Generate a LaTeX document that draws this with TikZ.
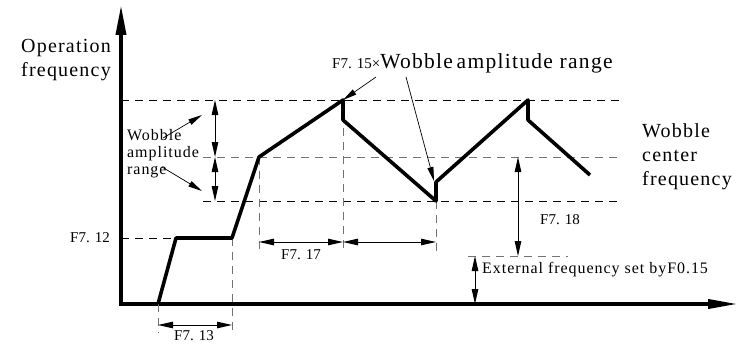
\documentclass[tikz,border=0pt]{standalone}
\usepackage{fontspec}
\setmainfont{Liberation Serif}
\newfontfamily\widefont[LetterSpace=6]{Liberation Serif}
\usetikzlibrary{arrows.meta,positioning}
\definecolor{guidegray}{RGB}{115,115,115}

\begin{document}
\begin{tikzpicture}[x=1pt, y=-1pt,
  every node/.style={inner sep=0pt},
  axisline/.style={line width=3.6pt, line join=miter, {Triangle[length=30pt,width=10pt]}-{Triangle[length=30pt,width=9pt]}},
  curveline/.style={line width=3.6pt, line join=round},
  guide/.style={line width=0.9pt, dash pattern=on 8pt off 6pt},
  grayguide/.style={guide, guidegray},
  dimarrow/.style={line width=1pt, {Triangle[length=15pt,width=6.5pt]}-{Triangle[length=15pt,width=6.5pt]}},
  leader/.style={line width=0.7pt, -{Triangle[length=14pt,width=6pt]}},
  bigtext/.style={font=\widefont\fontsize{20}{24}\selectfont, align=left},
  midtext/.style={font=\widefont\fontsize{16}{17}\selectfont, align=left},
  parmtext/.style={font=\fontsize{15}{18}\selectfont}]
  \useasboundingbox (0,0) rectangle (749,345);

  % axes
  \coordinate (ytop) at (121,5);
  \coordinate (orig) at (121,304);
  \coordinate (xend) at (738,304);
  \draw[axisline] (ytop) -- (orig) -- (xend);

  % corner points of the frequency curve
  \coordinate (start) at (158,304);
  \coordinate (rise) at (176,238);
  \coordinate (hold) at (232,238);
  \coordinate (centre) at (259,157);
  \coordinate (peakA) at (343,100);
  \coordinate (dropA) at (343,120);
  \coordinate (lowA) at (436,201);
  \coordinate (jumpA) at (436,182);
  \coordinate (peakB) at (528,100);
  \coordinate (dropB) at (528,120);
  \coordinate (tail) at (590,175);

  % horizontal guides
  \draw[guide] (121,100) -- (622,100);
  \draw[grayguide] (203,157) -- (622,157);
  \draw[guide] (203,201) -- (622,201);
  \draw[guide] (121,238) -- (rise);
  \draw[grayguide] (468,256) -- (568,256);

  % vertical guides
  \draw[grayguide] (start) -- (158,333);
  \draw[grayguide] (hold) -- (232,333);
  \draw[grayguide] (centre) -- (259,253);
  \draw[grayguide] (peakA) -- (343,253);
  \draw[grayguide] (lowA) -- (436,253);

  \draw[curveline] (start) -- (rise) -- (hold) -- (centre) -- (peakA) -- (dropA)
    -- (lowA) -- (jumpA) -- (peakB) -- (dropB) -- (tail);

  % dimensions
  \draw[dimarrow] (215,100) -- (215,157);
  \draw[dimarrow] (215,157) -- (215,201);
  \draw[dimarrow] (158,325) -- (232,325);
  \draw[dimarrow] (259,242) -- (343,242);
  \draw[dimarrow] (343,242) -- (436,242);
  \draw[dimarrow] (518,157) -- (518,256);
  \draw[dimarrow] (475,256) -- (475,304);

  % labels
  \node[bigtext, anchor=west] (ylabel) at (21,60) {Operation\\frequency};
  \node[parmtext, anchor=east] (f712) at (110,238) {F7. 12};
  \node[midtext, anchor=west] (ampl) at (127,154) {Wobble\\amplitude\\range};
  \node[parmtext] (f713) at (194,336) {F7. 13};
  \node[parmtext] (f717) at (301,255) {F7. 17};
  \node[parmtext, anchor=west] (f718) at (540,220) {F7. 18};
  \node[midtext, anchor=west] (extf) at (482,270) {External frequency set byF0.15};
  \node[bigtext, anchor=west] (centrelabel) at (642,157) {Wobble\\center\\frequency};
  \node[anchor=base west] (f715) at (332,69)
    {{\fontsize{15}{18}\selectfont F7. 15×}{\widefont\fontsize{21.5}{24}\selectfont Wobble\hspace{-3pt} amplitude range}};

  % leaders
  \draw[leader] (163,138) -- (202,115);
  \draw[leader] (162,167) -- (202,191);
  \draw[leader] (376,77) -- (peakA);
  \draw[leader] (406,77) -- (434,181);
\end{tikzpicture}
\end{document}
